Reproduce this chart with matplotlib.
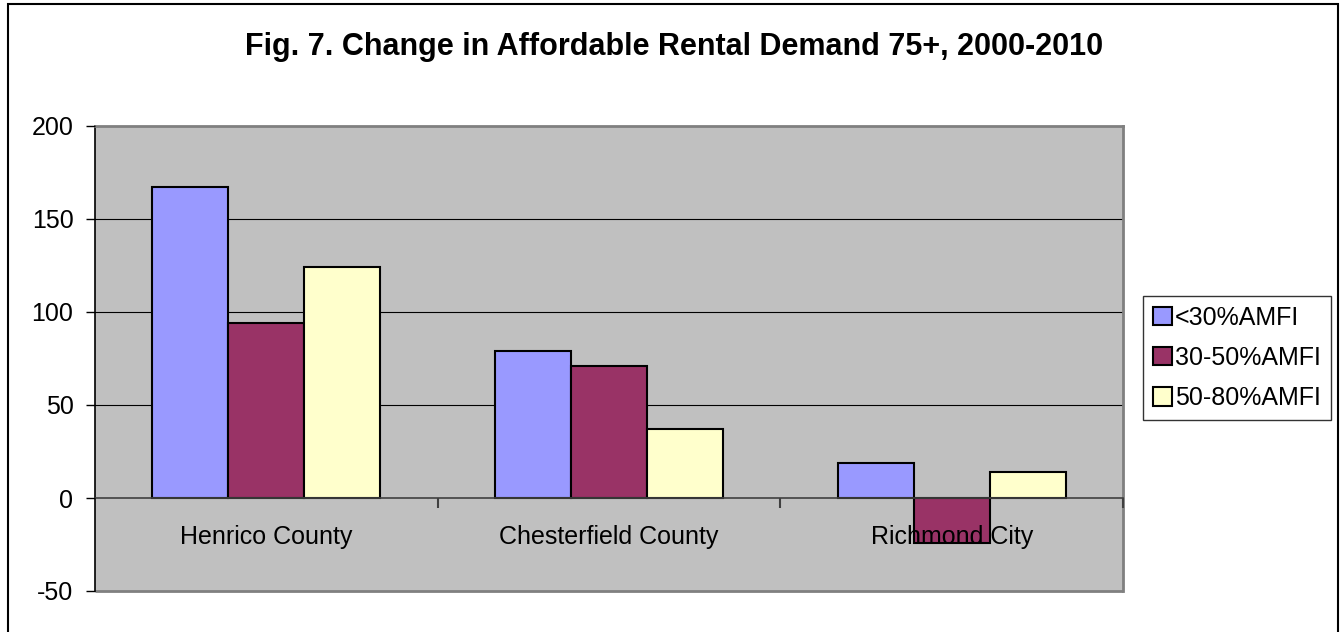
import matplotlib
matplotlib.use("Agg")
import matplotlib.pyplot as plt
from matplotlib.patches import Rectangle
import numpy as np

categories = ["Henrico County", "Chesterfield County", "Richmond City"]
series_names = ["<30%AMFI", "30-50%AMFI", "50-80%AMFI"]
lt30 = [167, 79, 19]
mid30_50 = [94, 71, -24]
mid50_80 = [124, 37, 14]
yticks = [-50, 0, 50, 100, 150, 200]

colors = ["#9999FF", "#993366", "#FFFFCC"]

plt.rcParams['font.family'] = ['Liberation Sans', 'DejaVu Sans']
plt.rcParams['axes.unicode_minus'] = False

W, H = 1343, 632
fig = plt.figure(figsize=(W / 100, H / 100), dpi=100)
fig.patch.set_facecolor("white")

# figure border
fig.add_artist(Rectangle((8 / W, -0.01), (1338 - 8) / W, 1 - 4 / H + 0.01,
                         transform=fig.transFigure, fill=False,
                         edgecolor="black", linewidth=1.5))

ax = fig.add_axes([95 / W, 1 - 591 / H, 1028 / W, 465 / H])
ax.set_facecolor("#C0C0C0")
ax.set_axisbelow(False)

x = np.arange(len(categories))
bw = 0.222
data = [lt30, mid30_50, mid50_80]
for i, (vals, name, c) in enumerate(zip(data, series_names, colors)):
    ax.bar(x + (i - 1) * bw, vals, width=bw, color=c, edgecolor="black",
           linewidth=1.5, label=name, zorder=2)

ax.set_xlim(-0.5, len(categories) - 0.5)
ax.set_ylim(-50, 200)

# gridlines
for v in [50, 100, 150]:
    ax.axhline(v, color="black", linewidth=0.8, zorder=0.5)
ax.axhline(200, color="#808080", linewidth=1.2, zorder=0.5)

ax.set_yticks(yticks)
ax.tick_params(axis="y", direction="out", length=6.5, width=1, labelsize=18,
               pad=9, color="black")

for s in ["top", "right"]:
    ax.spines[s].set_color("#808080")
    ax.spines[s].set_linewidth(2)
ax.spines["left"].set_color("black")
ax.spines["left"].set_linewidth(1.2)
ax.spines["bottom"].set_position(("data", 0))
ax.spines["bottom"].set_color("#404040")
ax.spines["bottom"].set_linewidth(1.2)
ax.add_patch(Rectangle((0, 0), 1, 0, transform=ax.transAxes, fill=False,
                       edgecolor="#808080", linewidth=2, clip_on=False))

ax.set_xticks([0.5, 1.5, 2.5])
ax.set_xticklabels([])
ax.tick_params(axis="x", which="major", direction="out", length=7, width=1.5,
               color="#404040")
ax.set_xticks(x, minor=True)
ax.set_xticklabels(categories, minor=True)
ax.tick_params(axis="x", which="minor", length=0, labelsize=18, pad=19.5)

fig.text(674 / W, 1 - 47 / H, "Fig. 7. Change in Affordable Rental Demand 75+, 2000-2010",
         ha="center", va="center", fontsize=22, fontweight="bold")

leg = fig.legend(loc="center left", bbox_to_anchor=(1143 / W, 1 - 358 / H),
                 bbox_transform=fig.transFigure, fontsize=18, frameon=True,
                 fancybox=False, edgecolor="black", handlelength=0.75,
                 handleheight=0.75, handletextpad=0.12, labelspacing=0.65,
                 borderpad=0.4, borderaxespad=0)
leg.get_frame().set_linewidth(1)

fig.savefig("out.png", dpi=100, facecolor="white")
